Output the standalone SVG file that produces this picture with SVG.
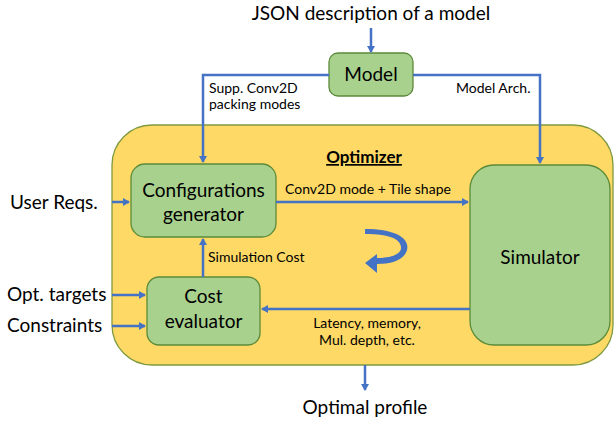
<svg xmlns="http://www.w3.org/2000/svg" width="615" height="421" viewBox="0 0 615 421">
<defs>
<style>
.t{font-family:Lato,"Liberation Sans",sans-serif;fill:#000}
.node{fill:#A9D18E;stroke:#5B8A3A;stroke-width:1.3}
.ln{fill:none;stroke:#4472C4;stroke-width:2.5}
</style>
<marker id="ah" markerWidth="8" markerHeight="8" refX="6" refY="4" orient="auto" markerUnits="userSpaceOnUse">
<path d="M0,0 L7,4 L0,8 Z" fill="#4472C4"/>
</marker>
</defs>
<rect width="615" height="421" fill="#fff"/>
<g id="optimizer">
<rect x="112" y="125" width="501" height="240" rx="40" fill="#FFD966" stroke="#7F9A3E" stroke-width="1.3"/>
<text class="t" x="364" y="163" font-size="17" font-weight="bold" text-anchor="middle" text-decoration="underline">Optimizer</text>
</g>
<g id="model">
<rect class="node" x="329" y="53" width="84" height="43" rx="9"/>
<text class="t" x="371" y="81" font-size="19" text-anchor="middle">Model</text>
</g>
<g id="config">
<rect class="node" x="131" y="164" width="145" height="73" rx="14"/>
<text class="t" x="203.5" y="197" font-size="19" text-anchor="middle">Configurations</text>
<text class="t" x="203.5" y="221" font-size="19" text-anchor="middle">generator</text>
</g>
<g id="simulator">
<rect class="node" x="470" y="165" width="140" height="180" rx="24"/>
<text class="t" x="540" y="264" font-size="19" text-anchor="middle">Simulator</text>
</g>
<g id="cost">
<rect class="node" x="147" y="277" width="113" height="68" rx="12"/>
<text class="t" x="203.5" y="303" font-size="19" text-anchor="middle">Cost</text>
<text class="t" x="203.5" y="328" font-size="19" text-anchor="middle">evaluator</text>
</g>
<g id="connectors">
<line class="ln" x1="371" y1="28" x2="371" y2="52" marker-end="url(#ah)"/>
<polyline class="ln" points="329,75 203,75 203,162" marker-end="url(#ah)"/>
<polyline class="ln" points="413,75 540,75 540,163" marker-end="url(#ah)"/>
<line class="ln" x1="276" y1="202" x2="468" y2="202" marker-end="url(#ah)"/>
<line class="ln" x1="470" y1="309" x2="262" y2="309" marker-end="url(#ah)"/>
<line class="ln" x1="203" y1="277" x2="203" y2="239" marker-end="url(#ah)"/>
<line class="ln" x1="112" y1="202" x2="129" y2="202" marker-end="url(#ah)"/>
<line class="ln" x1="112" y1="295" x2="145" y2="295" marker-end="url(#ah)"/>
<line class="ln" x1="112" y1="326" x2="145" y2="326" marker-end="url(#ah)"/>
<line class="ln" x1="365" y1="365" x2="365" y2="390" marker-end="url(#ah)"/>
<path d="M365,229 C395,229 410,238 407,250 C404,260 392,264 377,264 L377,273 L365,263 L377,254 L377,258 C392,258 400,254 401,249 C402,240 392,234 365,234 Z" fill="#4472C4"/>
</g>
<g id="labels">
<text class="t" x="371" y="20" font-size="19" text-anchor="middle">JSON description of a model</text>
<text class="t" x="209" y="93" font-size="14">Supp. Conv2D</text>
<text class="t" x="209" y="109" font-size="14">packing modes</text>
<text class="t" x="456" y="93" font-size="14">Model Arch.</text>
<text class="t" x="285" y="194" font-size="14">Conv2D mode + Tile shape</text>
<text class="t" x="208" y="262" font-size="14">Simulation Cost</text>
<text class="t" x="367" y="328" font-size="14" text-anchor="middle">Latency, memory,</text>
<text class="t" x="367" y="345" font-size="14" text-anchor="middle">Mul. depth, etc.</text>
<text class="t" x="10" y="209" font-size="19">User Reqs.</text>
<text class="t" x="7" y="301" font-size="19">Opt. targets</text>
<text class="t" x="7" y="332" font-size="19">Constraints</text>
<text class="t" x="365" y="414" font-size="19" text-anchor="middle">Optimal profile</text>
</g>
</svg>
